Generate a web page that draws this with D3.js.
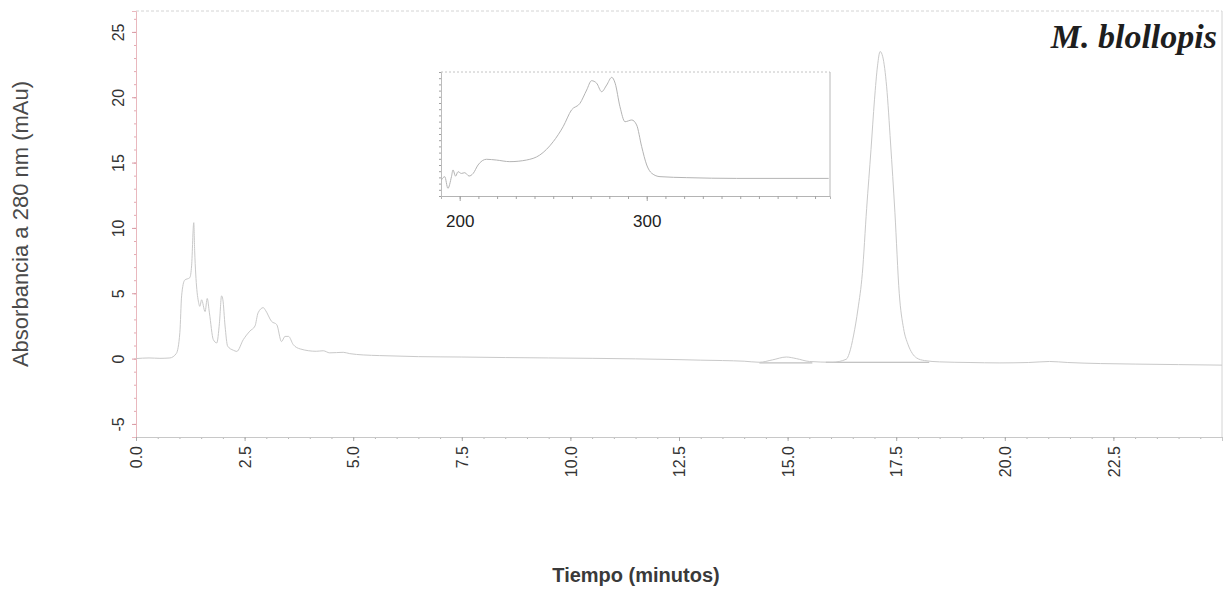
<!DOCTYPE html>
<html>
<head>
<meta charset="utf-8">
<script src="https://cdn.jsdelivr.net/npm/d3@7/dist/d3.min.js"></script>
<style>
  html, body { margin: 0; padding: 0; background: #ffffff; }
  svg { display: block; }
</style>
</head>
<body>
<script>
// Chromatogram at 280 nm: retention time (min) vs absorbance (mAU)
const timeMin = [
  0.00, 0.30, 0.55, 0.78, 0.93, 1.01, 1.05, 1.12, 1.24, 1.28, 1.33, 1.35, 1.40, 1.43, 1.47,
  1.51, 1.59, 1.64, 1.69, 1.78, 1.86, 1.92, 1.97, 2.00, 2.05, 2.11, 2.24, 2.32, 2.47, 2.62,
  2.74, 2.81, 2.93, 2.98, 3.12, 3.24, 3.35, 3.43, 3.51, 3.62, 3.78, 4.15, 4.31, 4.46, 4.77,
  4.92, 5.23, 5.61, 6.50, 7.50, 8.50, 9.50, 10.50, 11.50, 12.50, 13.00, 13.50, 14.00, 14.35,
  14.65, 14.97, 15.20, 15.50, 16.03, 16.35, 16.42, 16.52, 16.62, 16.72, 16.82, 16.92, 17.00,
  17.07, 17.13, 17.19, 17.28, 17.37, 17.47, 17.57, 17.67, 17.77, 17.87, 17.97, 18.15, 18.50,
  19.20, 19.87, 20.55, 21.03, 21.45, 22.20, 23.00, 24.00, 25.00
];
const absorbanceMAU = [
  0.00, 0.05, 0.02, 0.05, 0.40, 2.00, 4.80, 6.00, 6.20, 7.10, 10.40, 8.30, 5.30, 4.50, 4.00,
  4.50, 3.60, 4.60, 3.50, 1.45, 1.20, 2.70, 4.80, 4.50, 2.50, 0.95, 0.64, 0.55, 1.45, 2.10,
  2.50, 3.50, 3.90, 3.70, 2.85, 2.60, 1.30, 1.70, 1.70, 1.07, 0.74, 0.56, 0.60, 0.44, 0.48,
  0.38, 0.28, 0.23, 0.15, 0.12, 0.08, 0.05, 0.02, -0.02, -0.08, -0.12, -0.15, -0.20, -0.28,
  -0.10, 0.12, 0.00, -0.22, -0.28, -0.05, 0.40, 1.80, 3.80, 6.50, 11.50, 16.00, 19.80,
  22.40, 23.50, 23.10, 20.80, 16.50, 11.20, 5.00, 2.30, 1.10, 0.40, 0.05, -0.15, -0.25,
  -0.30, -0.33, -0.30, -0.22, -0.30, -0.38, -0.42, -0.46, -0.50
];

// Integration baselines drawn under the late peaks
const baseStart = [14.35, 15.88];
const baseEnd   = [15.57, 18.26];
const baseLevel = [-0.33, -0.28];

// UV spectrum of the main peak (inset)
const wavelengthNm = [
  190.2, 192.0, 193.7, 195.6, 196.4, 197.8, 199.1, 200.9, 202.7, 205.0, 207.2, 209.8, 214.3,
  219.6, 226.8, 235.7, 242.8, 250.0, 255.3, 259.8, 264.3, 267.9, 270.5, 273.2, 275.9, 278.6,
  281.3, 283.1, 285.7, 288.4, 292.0, 294.6, 297.3, 300.0, 302.7, 307.1, 321.4, 348.0, 375.0, 397.3
];
const spectrumAbs = [
  12.9, 15.6, 6.2, 15.6, 21.0, 16.0, 19.6, 18.2, 18.8, 16.1, 18.2, 25.0, 29.6,
  29.0, 27.7, 29.0, 33.0, 43.8, 55.9, 69.4, 74.7, 85.5, 93.0, 91.0, 84.1, 89.5,
  95.7, 91.0, 72.0, 59.9, 61.3, 57.3, 39.8, 25.0, 18.3, 15.6, 14.8, 14.2, 14.2, 14.2
];

const timeTicks = [0, 2.5, 5, 7.5, 10, 12.5, 15, 17.5, 20, 22.5];
const absTicks = [-5, 0, 5, 10, 15, 20, 25];
const nmTicks = [200, 300];

(function draw() {
  const W = 1223, H = 591;
  const SANS = "'Liberation Sans', Arial, sans-serif";
  const SERIF = "'Liberation Serif', 'Times New Roman', serif";
  const svg = d3.select("body").append("svg").attr("width", W).attr("height", H);

  const pL = 136, pR = 1222, pT = 11, pB = 437;
  const x = d3.scaleLinear().domain([0, 25]).range([pL, pR]);
  const y = d3.scaleLinear().domain([-6, 26.6]).range([pB, pT]);

  // frame (top and right edges)
  svg.append("line").attr("x1", pL).attr("x2", pR).attr("y1", pT).attr("y2", pT)
    .attr("stroke", "#d4d4d4").attr("stroke-width", 1).attr("stroke-dasharray", "3,2");
  svg.append("line").attr("x1", pR).attr("x2", pR).attr("y1", pT).attr("y2", pB)
    .attr("stroke", "#d4d4d4").attr("stroke-width", 1);

  // y axis: minor ticks every 1 mAU, labelled every 5
  svg.append("g").attr("transform", `translate(${pL},0)`)
    .call(d3.axisLeft(y).tickValues(d3.range(-6, 27, 1)).tickSize(2).tickFormat(""))
    .call(g => g.select(".domain").remove())
    .call(g => g.selectAll("line").attr("stroke", "#e3a9b1"));
  const yAxis = svg.append("g").attr("transform", `translate(${pL},0)`)
    .call(d3.axisLeft(y).tickValues(absTicks).tickSize(4).tickFormat(d => String(d)));
  yAxis.select(".domain").attr("stroke", "#e9b8be");
  yAxis.selectAll("line").attr("stroke", "#d99aa4");
  yAxis.selectAll("text")
    .attr("x", 0).attr("y", 0).attr("dy", "0.35em")
    .attr("transform", "translate(-18,0) rotate(-90)")
    .attr("text-anchor", "middle")
    .attr("fill", "#333")
    .style("font-family", SANS).style("font-size", "16px");

  // x axis: minor ticks every 0.5 min, labelled every 2.5
  svg.append("g").attr("transform", `translate(0,${pB})`)
    .call(d3.axisBottom(x).tickValues(d3.range(0, 25.01, 0.5)).tickSize(2).tickFormat(""))
    .call(g => g.select(".domain").remove())
    .call(g => g.selectAll("line").attr("stroke", "#b5b5b5"));
  const xAxis = svg.append("g").attr("transform", `translate(0,${pB})`)
    .call(d3.axisBottom(x).tickValues(timeTicks).tickSize(4).tickFormat(d3.format(".1f")));
  xAxis.select(".domain").attr("stroke", "#c8c8c8");
  xAxis.selectAll("line").attr("stroke", "#aaaaaa");
  xAxis.selectAll("text")
    .attr("x", 0).attr("y", 0).attr("dy", "0.35em")
    .attr("transform", "translate(0,9) rotate(-90)")
    .attr("text-anchor", "end")
    .attr("fill", "#333")
    .style("font-family", SANS).style("font-size", "16px");

  // integration baselines
  svg.append("g").selectAll("line")
    .data(d3.range(baseStart.length))
    .join("line")
    .attr("x1", i => x(baseStart[i])).attr("x2", i => x(baseEnd[i]))
    .attr("y1", i => y(baseLevel[i])).attr("y2", i => y(baseLevel[i]))
    .attr("stroke", "#b0b0b0").attr("stroke-width", 1);

  // chromatogram trace
  const trace = timeMin.map((t, i) => [t, absorbanceMAU[i]]);
  svg.append("path")
    .datum(trace)
    .attr("fill", "none")
    .attr("stroke", "#c9c9c9")
    .attr("stroke-width", 1)
    .attr("d", d3.line().x(d => x(d[0])).y(d => y(d[1])).curve(d3.curveMonotoneX));

  // inset: absorption spectrum
  const ix = d3.scaleLinear().domain([190, 398]).range([441, 830]);
  const iy = d3.scaleLinear().domain([0, 100]).range([196, 72]);
  const inset = svg.append("g");
  inset.append("line").attr("x1", 441).attr("x2", 830).attr("y1", 72).attr("y2", 72)
    .attr("stroke", "#c4c4c4").attr("stroke-dasharray", "2,2");
  inset.append("line").attr("x1", 830).attr("x2", 830).attr("y1", 72).attr("y2", 196)
    .attr("stroke", "#b8b8b8");
  inset.append("g").attr("transform", "translate(441,0)")
    .call(d3.axisLeft(iy).tickValues(d3.range(0, 101, 5)).tickSize(2).tickFormat(""))
    .call(g => g.select(".domain").attr("stroke", "#bcbcbc"))
    .call(g => g.selectAll("line").attr("stroke", "#a0a0a0"));
  inset.append("g").attr("transform", "translate(0,196)")
    .call(d3.axisBottom(ix).tickValues(d3.range(200, 400, 10)).tickSize(3).tickFormat(""))
    .call(g => g.select(".domain").attr("stroke", "#b4b4b4"))
    .call(g => g.selectAll("line").attr("stroke", "#a4a4a4"));
  inset.append("g").attr("transform", "translate(0,196)")
    .call(d3.axisBottom(ix).tickValues(nmTicks).tickSize(5).tickFormat(d3.format("d")))
    .call(g => g.select(".domain").remove())
    .call(g => g.selectAll("line").attr("stroke", "#a4a4a4"))
    .call(g => g.selectAll("text")
      .attr("y", 0).attr("dy", 31)
      .attr("fill", "#222")
      .style("font-family", SANS).style("font-size", "17px"));
  inset.append("path")
    .datum(wavelengthNm.map((w, i) => [w, spectrumAbs[i]]))
    .attr("fill", "none")
    .attr("stroke", "#b4b4b4")
    .attr("stroke-width", 1)
    .attr("d", d3.line().x(d => ix(d[0])).y(d => iy(d[1])).curve(d3.curveMonotoneX));

  // titles
  svg.append("text")
    .attr("x", 1217).attr("y", 48)
    .attr("text-anchor", "end")
    .attr("fill", "#1e1e1e")
    .style("font-family", SERIF)
    .style("font-style", "italic").style("font-weight", "bold")
    .style("font-size", "34px")
    .text("M. blollopis");

  svg.append("text")
    .attr("transform", "translate(28,224) rotate(-90)")
    .attr("text-anchor", "middle")
    .attr("fill", "#4a4a4a")
    .style("font-family", SANS).style("font-size", "22px")
    .text("Absorbancia a 280 nm (mAu)");

  svg.append("text")
    .attr("x", 636).attr("y", 582)
    .attr("text-anchor", "middle")
    .attr("fill", "#3a3a3a")
    .style("font-family", SANS).style("font-size", "20px").style("font-weight", "bold")
    .text("Tiempo (minutos)");
})();
</script>
</body>
</html>
